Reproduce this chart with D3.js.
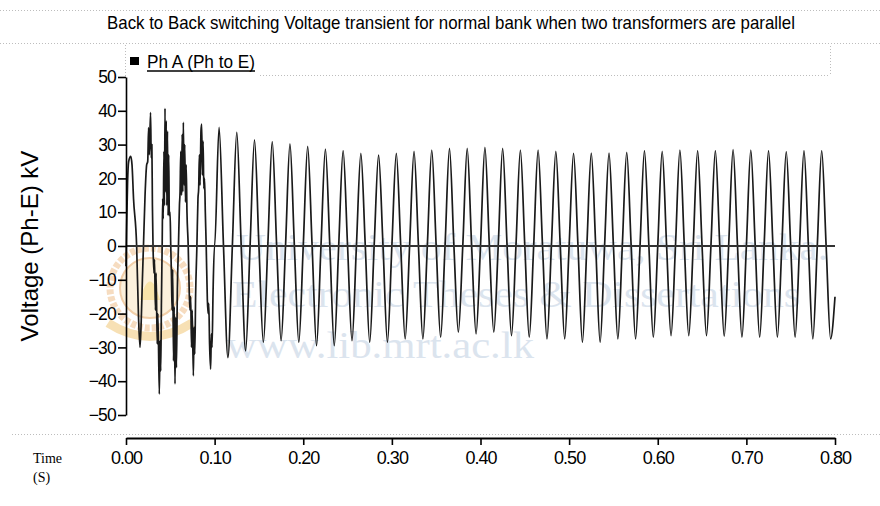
<!DOCTYPE html>
<html><head><meta charset="utf-8">
<script src="https://cdn.jsdelivr.net/npm/d3@7"></script>
<style>body{margin:0;background:#fff}svg{display:block}</style>
</head><body>
<svg id="c" width="880" height="506"></svg>
<script>
// ---------- data ----------
const title = "Back to Back switching Voltage transient for normal bank when two transformers are parallel";
const seriesName = "Ph  A (Ph to E)";
const yLabel = "Voltage (Ph-E) kV";
const xLabel = ["Time", "(S)"];
const yTicks = [50, 40, 30, 20, 10, 0, -10, -20, -30, -40, -50];
const xTicks = [0, 0.1, 0.2, 0.3, 0.4, 0.5, 0.6, 0.7, 0.8];
const xTickLabels = ["0.00", "0.10", "0.20", "0.30", "0.40", "0.50", "0.60", "0.70", "0.80"];
const watermark = ["University of Moratuwa, Sri Lanka.", "Electronic Theses & Dissertations", "www.lib.mrt.ac.lk"];

const period = 0.02; // 50 Hz
// positive peak per cycle (kV), cycles 0..39
const posPeaks = [26.5, 39.5, 40.7, 36.6, 36.1, 35.1, 33.6, 31.4, 30.9, 30.2,
  29.5, 28.7, 28.2, 27.4, 26.9, 27.4, 28.0, 28.4, 28.9, 28.9,
  29.2, 28.9, 28.4, 28.4, 28.0, 27.4, 27.5, 27.5, 27.7, 28.2,
  28.0, 28.4, 28.2, 28.2, 28.5, 28.4, 28.2, 27.9, 28.2, 28.2];
// negative peak per cycle (kV), cycles 0..39
const negPeaks = [-30.0, -43.8, -40.8, -38.4, -36.4, -33.0, -31.0, -28.5, -28.0, -28.5,
  -29.5, -29.5, -28.0, -28.5, -28.5, -27.5, -27.5, -27.0, -25.5, -26.0,
  -25.5, -26.5, -27.0, -27.5, -27.5, -28.5, -28.5, -27.5, -27.5, -27.0,
  -26.5, -26.5, -26.5, -26.7, -27.0, -27.0, -27.0, -27.0, -27.5, -27.5];
const endValue = -15;
// detailed transient (first 5 cycles): time (s), voltage (kV)
const transientT = [0, 0.0006, 0.0018, 0.003, 0.0053, 0.0068, 0.0085, 0.012, 0.014, 0.0158, 0.0172, 0.0185, 0.0197,
  0.0215, 0.0233, 0.0245, 0.0255, 0.0263, 0.0277, 0.0285, 0.0292, 0.0298, 0.0305, 0.0315, 0.0322, 0.0332, 0.034, 0.0352, 0.036, 0.0376, 0.0384, 0.0392, 0.04, 0.0408,
  0.0414, 0.042, 0.0428, 0.0434, 0.044, 0.0447, 0.0454, 0.0461, 0.0468, 0.0475, 0.0482, 0.0489, 0.0497, 0.0505, 0.0513, 0.052, 0.0527, 0.0536, 0.0544, 0.0553, 0.0561, 0.0569, 0.058, 0.0592,
  0.0603, 0.061, 0.0618, 0.0626, 0.0634, 0.0641, 0.0647, 0.0655, 0.0663, 0.0671, 0.0679, 0.0688, 0.0702, 0.0714, 0.0722, 0.073, 0.0739, 0.0747, 0.076, 0.0768, 0.0776, 0.0786, 0.08,
  0.0812, 0.082, 0.0828, 0.0836, 0.0846, 0.0854, 0.0862, 0.087, 0.0878, 0.0886, 0.0895, 0.0905, 0.0918, 0.0926, 0.0934, 0.0943, 0.0955, 0.0963, 0.0971, 0.0982, 0.0998];
const transientV = [-6, 4, 19, 25, 26.5, 24, 14, 0, -20, -30, -22, -10, 0,
  15, 24, 25, 35, 27, 39.5, 26, 30, 12, 0, -8, -4, -19, -8, -29, -20, -43.8, -28, -37, -16, 0,
  14, 8, 28, 12, 40.7, 16, 37, 12, 34, 9, 27, 9, 10, 0, -9, -19, -7, -34, -18, -40.8, -21, -36, -12, 0,
  12, 16, 28, 15, 33, 16, 36.6, 18, 30, 13, 24, 10, 0, -14, -19, -15, -30, -19, -38.4, -24, -32, -14, 0,
  14, 17, 27, 18, 34, 36.1, 21, 31, 17, 20, 10, 0, -16, -20, -17, -29, -36.4, -26, -30, -14, 0];
const firstSteadyCycle = 5;

// ---------- build series ----------
const pts = transientT.map((t, i) => [t, transientV[i]]);
for (let k = firstSteadyCycle; k < posPeaks.length; k++) {
  const t0 = k * period;
  pts.push([t0, 0], [t0 + period / 4, posPeaks[k]], [t0 + period / 2, 0], [t0 + 3 * period / 4, negPeaks[k]]);
}
pts.push([0.8, endValue]);

// ---------- chart ----------
const svg = d3.select("#c");
const x = d3.scaleLinear().domain([0, 0.8]).range([126, 835]);
const y = d3.scaleLinear().domain([-50, 50]).range([415, 77]);

// faint dotted frame artifacts
const dot = svg.append("g").attr("stroke", "#bdbdbd").attr("stroke-width", 1).attr("stroke-dasharray", "1,2").attr("fill", "none");
dot.append("line").attr("x1", 0).attr("x2", 880).attr("y1", 10.5).attr("y2", 10.5);
dot.append("line").attr("x1", 0).attr("x2", 880).attr("y1", 43.5).attr("y2", 43.5);
dot.append("line").attr("x1", 125.5).attr("x2", 125.5).attr("y1", 45).attr("y2", 76);
dot.append("line").attr("x1", 830.5).attr("x2", 830.5).attr("y1", 46).attr("y2", 76);
dot.append("line").attr("x1", 260).attr("x2", 830).attr("y1", 75.5).attr("y2", 75.5);
dot.append("line").attr("x1", 12).attr("x2", 880).attr("y1", 434.5).attr("y2", 434.5);

// watermark
const wm = svg.append("g");
const logo = wm.append("g").attr("transform", "translate(150,288)").attr("fill", "none");
logo.append("circle").attr("r", 40).attr("stroke", "#f6dcc0").attr("stroke-width", 7).attr("stroke-dasharray", "5,2");
logo.append("circle").attr("r", 30).attr("fill", "#fcf1dc").attr("stroke", "#f2cfa8").attr("stroke-width", 2);
logo.append("path").attr("d", "M-10,12 Q0,-25 10,12 Z").attr("fill", "#f8e3a8");
logo.append("path").attr("d", "M-42,35 Q0,62 42,35").attr("stroke", "#f7e0b4").attr("stroke-width", 9);
const wmY = [260, 307, 358];
const wmX = [236, 232, 226];
const wmL = [592, 568, 308];
wm.selectAll("text.wm").data(watermark).join("text").attr("class", "wm")
  .attr("x", (d, i) => wmX[i]).attr("y", (d, i) => wmY[i])
  .attr("textLength", (d, i) => wmL[i]).attr("lengthAdjust", "spacingAndGlyphs")
  .attr("font-family", "Liberation Serif, Times New Roman, serif").attr("font-size", 38)
  .attr("fill", "#dbe4ee").text(d => d);

// waveform
const line = d3.line().x(d => x(d[0])).y(d => y(d[1])).curve(d3.curveMonotoneX);
svg.append("path").datum(pts).attr("d", line).attr("fill", "none")
  .attr("stroke", "#1a1a1a").attr("stroke-width", 1.7).attr("stroke-linejoin", "round");

// zero line
svg.append("line").attr("x1", x(0)).attr("x2", x(0.8)).attr("y1", y(0)).attr("y2", y(0))
  .attr("stroke", "#333").attr("stroke-width", 1.8);

// axes
const fontAx = "Liberation Sans, Arial, sans-serif";
const yAxis = svg.append("g").attr("transform", `translate(${x(0)},0)`)
  .call(d3.axisLeft(y).tickValues(yTicks).tickSize(8).tickSizeOuter(0).tickPadding(2).tickFormat(d3.format("d")));
yAxis.select(".domain").attr("stroke", "#000").attr("stroke-width", 1.6);
yAxis.selectAll(".tick line").attr("stroke", "#000").attr("stroke-width", 1.6);
yAxis.selectAll(".tick text").attr("font-family", fontAx).attr("font-size", 17.5).attr("letter-spacing", "-0.8px").attr("fill", "#000");

const xAxis = svg.append("g").attr("transform", "translate(0,438)")
  .call(d3.axisBottom(x).tickValues(xTicks).tickSize(7).tickSizeOuter(0).tickPadding(6).tickFormat((d, i) => xTickLabels[i]));
xAxis.select(".domain").attr("stroke", "#000").attr("stroke-width", 2.2);
xAxis.selectAll(".tick line").attr("stroke", "#000").attr("stroke-width", 1.6);
xAxis.selectAll(".tick text").attr("font-family", fontAx).attr("font-size", 18).attr("letter-spacing", "-1px").attr("fill", "#000");

// title
svg.append("text").attr("x", 107).attr("y", 29).attr("font-family", fontAx).attr("font-size", 18.5)
  .attr("textLength", 688).attr("lengthAdjust", "spacingAndGlyphs").attr("fill", "#000").text(title);

// legend
svg.append("rect").attr("x", 130).attr("y", 57).attr("width", 9).attr("height", 8).attr("fill", "#000");
svg.append("text").attr("x", 147).attr("y", 68).attr("font-family", fontAx).attr("font-size", 18)
  .attr("textLength", 108).attr("lengthAdjust", "spacingAndGlyphs").attr("fill", "#000").text(seriesName);
svg.append("line").attr("x1", 147).attr("x2", 255).attr("y1", 71).attr("y2", 71).attr("stroke", "#000").attr("stroke-width", 1.3);

// y label
svg.append("text").attr("transform", `translate(38,${(y(50) + y(-50)) / 2}) rotate(-90)`)
  .attr("text-anchor", "middle").attr("font-family", fontAx).attr("font-size", 24).attr("fill", "#000").text(yLabel);

// x label
svg.selectAll("text.xl").data(xLabel).join("text").attr("class", "xl")
  .attr("x", 33).attr("y", (d, i) => 463 + i * 19)
  .attr("font-family", "Liberation Serif, Times New Roman, serif").attr("font-size", 14).attr("fill", "#000").text(d => d);
</script>
</body></html>
